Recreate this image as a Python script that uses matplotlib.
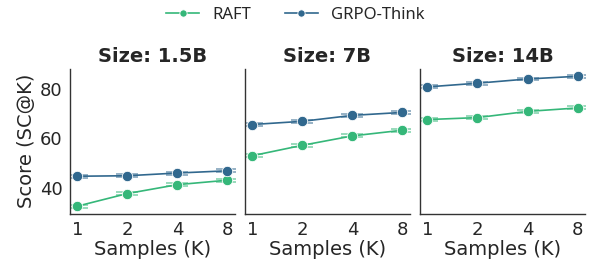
import matplotlib
matplotlib.use("Agg")
import matplotlib.pyplot as plt
import numpy as np

sizes = ["1.5B", "7B", "14B"]
samples = ["1", "2", "4", "8"]

raft = {
    "1.5B": [32.6, 37.7, 41.3, 43.1],
    "7B": [53.0, 57.2, 61.0, 63.3],
    "14B": [67.6, 68.4, 70.9, 72.3],
}
grpo = {
    "1.5B": [44.7, 44.9, 46.0, 46.9],
    "7B": [65.6, 66.9, 69.3, 70.5],
    "14B": [80.8, 82.3, 84.0, 85.1],
}
err = 0.6

green = "#35b779"
blue = "#31688e"
text_color = "#262626"

fig, axes = plt.subplots(1, 3, figsize=(5.91, 2.69), dpi=100, sharey=True)
fig.subplots_adjust(left=0.118, right=0.99, bottom=0.205, top=0.745, wspace=0.06)

x = np.arange(len(samples))
for ax, size in zip(axes, sizes):
    for vals, color, label in [(raft[size], green, "RAFT"), (grpo[size], blue, "GRPO-Think")]:
        ax.errorbar(x, vals, yerr=err, fmt="none", ecolor=color, alpha=0.55,
                    capsize=8, elinewidth=1, capthick=1.3)
        ax.plot(x, vals, color=color, marker="o", markersize=7.5, linewidth=1.2,
                markeredgecolor="white", markeredgewidth=0.6, label=label)
    ax.set_title(f"Size: {size}", fontsize=14, fontweight="bold", color=text_color, pad=5)
    ax.set_xticks(x)
    ax.set_xticklabels(samples)
    ax.set_xlim(-0.15, 3.15)
    ax.set_xlabel("Samples (K)", fontsize=14, color=text_color, labelpad=1)
    ax.tick_params(length=0, labelsize=13, labelcolor=text_color, pad=5)
    for side in ["top", "right"]:
        ax.spines[side].set_visible(False)
    for side in ["left", "bottom"]:
        ax.spines[side].set_color("#333333")
        ax.spines[side].set_linewidth(1.0)

axes[0].set_ylim(29.5, 88.2)
axes[0].set_yticks([40, 60, 80])
axes[0].set_ylabel("Score (SC@K)", fontsize=14, color=text_color, labelpad=3)

handles, labels = axes[0].get_legend_handles_labels()
fig.legend(handles, labels, loc="upper center", bbox_to_anchor=(0.5, 1.03), ncol=2,
           frameon=False, handlelength=2.0, columnspacing=2.0,
           markerscale=0.7, prop={"family": "Noto Sans", "size": 12},
           labelcolor=text_color)

fig.savefig("out.png", dpi=100)
